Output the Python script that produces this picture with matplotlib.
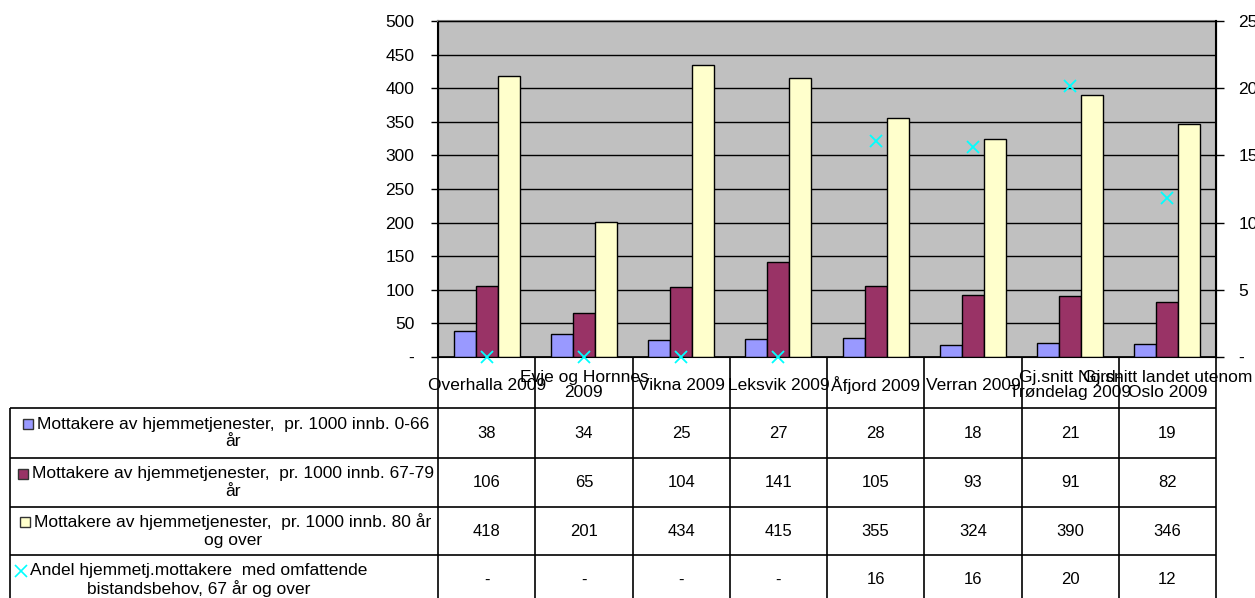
import numpy as np
import matplotlib
matplotlib.use("Agg")
import matplotlib.pyplot as plt

plt.rcParams['font.family'] = ['Liberation Sans', 'DejaVu Sans']

categories = ["Overhalla 2009", "Evje og Hornnes\n2009", "Vikna 2009", "Leksvik 2009",
              "Åfjord 2009", "Verran 2009", "Gj.snitt Nord-\nTrøndelag 2009",
              "Gj.snitt landet utenom\nOslo 2009"]
age_0_66 = [38, 34, 25, 27, 28, 18, 21, 19]
age_67_79 = [106, 65, 104, 141, 105, 93, 91, 82]
age_80_plus = [418, 201, 434, 415, 355, 324, 390, 346]
andel_omfattende = [0, 0, 0, 0, 16.1, 15.6, 20.2, 11.8]

series_labels = ["Mottakere av hjemmetjenester,  pr. 1000 innb. 0-66\når",
                 "Mottakere av hjemmetjenester,  pr. 1000 innb. 67-79\når",
                 "Mottakere av hjemmetjenester,  pr. 1000 innb. 80 år\nog over",
                 "Andel hjemmetj.mottakere  med omfattende\nbistandsbehov, 67 år og over"]
bar_colors = ["#9999FF", "#993366", "#FFFFCC"]
marker_color = "#00FFFF"

W, H = 1255, 598
fig = plt.figure(figsize=(W / 100, H / 100), dpi=100)

# main chart area
ax = fig.add_axes([438 / W, (H - 357) / H, (1216 - 438) / W, (357 - 21) / H])
ax.set_facecolor("#C0C0C0")
x = np.arange(len(categories))
bw = 0.227
for i, vals in enumerate([age_0_66, age_67_79, age_80_plus]):
    ax.bar(x + (i - 1) * bw, vals, bw, color=bar_colors[i], edgecolor="black",
           linewidth=1, zorder=3)
ax.set_xlim(-0.5, 7.5)
ax.set_ylim(0, 500)
ax.set_yticks(np.arange(0, 501, 50))
ax.set_yticklabels(["-"] + [str(v) for v in range(50, 501, 50)])
ax.yaxis.grid(True, color="black", linewidth=1)
ax.set_axisbelow(True)
ax.set_xticks([])
ax.tick_params(axis="y", direction="out", length=5, width=1, labelsize=12.5, pad=12)
ax.spines["left"].set_linewidth(1.5)
ax.spines["top"].set_color("#808080")
ax.spines["top"].set_linewidth(1.5)
ax.spines["bottom"].set_linewidth(1.2)

ax2 = ax.twinx()
ax2.set_ylim(0, 25)
ax2.set_yticks(np.arange(0, 26, 5))
ax2.set_yticklabels(["-"] + [str(v) for v in range(5, 26, 5)])
ax2.tick_params(axis="y", direction="out", length=6, width=1, labelsize=12.5, pad=10)
ax2.spines["right"].set_linewidth(1.5)
ax2.plot(x, andel_omfattende, linestyle="none", marker="x", color=marker_color,
         markersize=8, markeredgewidth=1.3, clip_on=False, zorder=5)

# data table below the chart
ax_t = fig.add_axes([10 / W, (H - 605) / H, (1216 - 10) / W, (605 - 357) / H])
px_per_cat = (1216 - 438) / 8


def px2u(px):
    return -0.5 + (px - 438) / px_per_cat


left_edge = px2u(10)
ax_t.set_xlim(left_edge, 7.5)
ax_t.set_ylim(605, 357)
ax_t.axis("off")

rows = [357, 408, 458, 507, 555, 605]
col_edges = np.arange(-0.5, 8.0, 1.0)
ax_t.vlines(col_edges, rows[0], rows[-1], color="black", linewidth=1.2, clip_on=False)
ax_t.vlines([left_edge], rows[1], rows[-1], color="black", linewidth=1.2, clip_on=False)
ax_t.hlines(rows[1:-1], left_edge, 7.5, color="black", linewidth=1.2, clip_on=False)

for i, cat in enumerate(categories):
    ax_t.text(i, 385, cat, ha="center", va="center", fontsize=12.5, linespacing=1.05)

table_values = [age_0_66, age_67_79, age_80_plus,
                [round(v) if v else "-" for v in andel_omfattende]]
text_centers = [233, 233, 233, 199]
renderer = fig.canvas.get_renderer()
for r, (vals, lab) in enumerate(zip(table_values, series_labels)):
    yc = (rows[r + 1] + rows[r + 2]) / 2
    for i, v in enumerate(vals):
        ax_t.text(i, yc, str(v), ha="center", va="center", fontsize=12)
    line1, line2 = lab.split("\n")
    t1 = ax_t.text(px2u(text_centers[r]), yc - 9, line1, ha="center", va="center",
                   fontsize=12.5)
    ax_t.text(px2u(text_centers[r]), yc + 9, line2, ha="center", va="center",
              fontsize=12.5)
    x0_px = t1.get_window_extent(renderer).x0
    kx = ax_t.transData.inverted().transform((x0_px - 9, 0))[0]
    if r < 3:
        ax_t.plot(kx, yc - 9, marker="s", markersize=7, markerfacecolor=bar_colors[r],
                  markeredgecolor="#333333", markeredgewidth=1, clip_on=False)
    else:
        ax_t.plot(kx, yc - 9, marker="x", markersize=8, color=marker_color,
                  markeredgewidth=1.2, clip_on=False)

fig.savefig("out.png", dpi=100)
